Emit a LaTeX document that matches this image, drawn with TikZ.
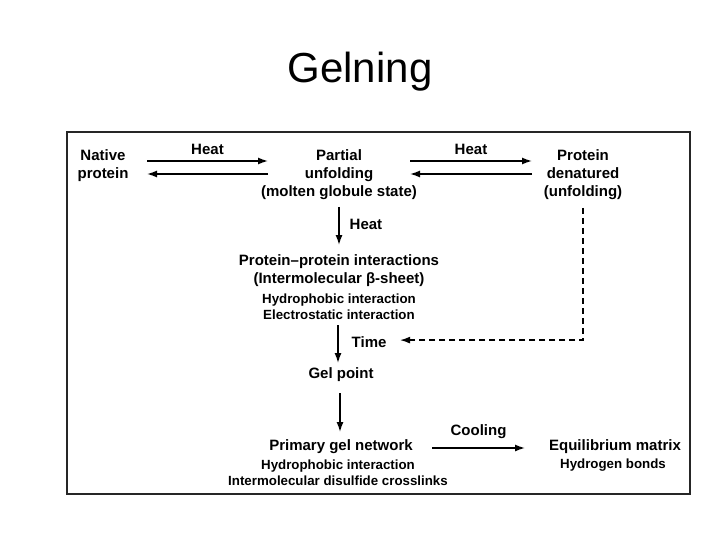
\documentclass[tikz,border=0pt]{standalone}
\usepackage{fontspec}
\setmainfont{Liberation Sans}
\usetikzlibrary{arrows.meta}
\newcommand\mainf{\fontsize{15}{18}\selectfont\bfseries}
\newcommand\smallf{\fontsize{13.3}{16}\selectfont\bfseries}
\tikzset{
  txt/.style={inner sep=0pt, align=center, font=\mainf},
  stxt/.style={inner sep=0pt, align=center, font=\smallf},
  arr/.style={line width=1.4pt, -{Latex[length=10pt,width=7pt]}},
  dasharr/.style={line width=1.3pt, dash pattern=on 6pt off 4pt, -{Latex[length=10pt,width=7pt]}},
  lbl/.style={inner sep=0pt, font=\mainf}
}
\begin{document}
\begin{tikzpicture}[x=1pt,y=-1pt]
\useasboundingbox (0,0) rectangle (720,540);
% title
\node[anchor=base, inner sep=0pt, font=\fontsize{42}{48}\selectfont] (title) at (360,83) {Gelning};
% frame
\draw[line width=1.5pt, black!85] (67,132) rectangle (690,494);
% nodes
\node[txt] (native) at (103,166) {Native\\protein};
\node[txt] (partial) at (339,175) {Partial\\unfolding\\(molten globule state)};
\node[txt] (denat) at (583,175) {Protein\\denatured\\(unfolding)};
\node[txt] (pp1) at (339,271) {Protein–protein interactions\\(Intermolecular β-sheet)};
\node[stxt] (pp2) at (339,307) {Hydrophobic interaction\\Electrostatic interaction};
\node[txt] (gel) at (341,375) {Gel point};
\node[txt] (prim1) at (341,447) {Primary gel network};
\node[stxt] (prim2) at (338,472.5) {Hydrophobic interaction\\Intermolecular disulfide crosslinks};
\node[txt] (eq1) at (615,447) {Equilibrium matrix};
\node[stxt] (eq2) at (613,465) {Hydrogen bonds};
% heat arrows 1
\draw[arr] ([shift={(44,-5)}]native.center) -- node[lbl, midway, yshift=12pt] (heat1) {Heat} ([shift={(-71,-14)}]partial.center);
\draw[arr] ([shift={(-71,-1)}]partial.center) -- ([shift={(44,8)}]native.center);
% heat arrows 2
\draw[arr] ([shift={(71,-14)}]partial.center) -- node[lbl, midway, yshift=12pt] (heat2) {Heat} ([shift={(-51,-14)}]denat.center);
\draw[arr] ([shift={(-51,-1)}]denat.center) -- ([shift={(71,-1)}]partial.center);
% vertical arrows
\draw[arr] ([shift={(0,32)}]partial.center) -- node[lbl, pos=0.45, right=10pt] (heat3) {Heat} ([shift={(0,-26)}]pp1.center);
\draw[arr] ([shift={(-1,18)}]pp2.center) -- node[lbl, pos=0.45, right=13pt] (time) {Time} ([shift={(-3,-12)}]gel.center);
\draw[arr] ([shift={(-1,18)}]gel.center) -- ([shift={(-1,-15)}]prim1.center);
% dashed
\draw[dasharr] ([shift={(0,33)}]denat.center) |- ([shift={(31,-2)}]time.center);
% cooling
\draw[arr] ([shift={(91,1)}]prim1.center) -- node[lbl, midway, yshift=16pt] (cool) {Cooling} ([shift={(-90,1)}]eq1.center);
\end{tikzpicture}
\end{document}
